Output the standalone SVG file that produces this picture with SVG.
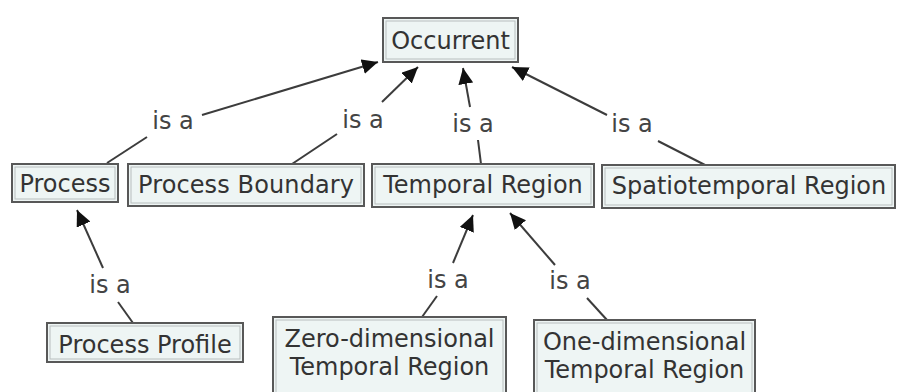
<svg xmlns="http://www.w3.org/2000/svg" width="897" height="392" viewBox="0 0 897 392">
  <style>
    .box { fill: #eef5f4; stroke: #585858; stroke-width: 2; }
    .inner { fill: none; stroke: #b8bebe; stroke-width: 1; }
    .lbl { font-family: "DejaVu Sans", Verdana, sans-serif; font-size: 24px; fill: #333333; text-anchor: middle; }
    .rel { font-family: "DejaVu Sans", Verdana, sans-serif; font-size: 24px; fill: #444444; text-anchor: middle; }
    .edge { stroke: #3c3c3c; stroke-width: 2; fill: none; }
    .arrow { stroke: #3c3c3c; stroke-width: 2; fill: none; marker-end: url(#ah); }
  </style>
  <defs>
    <marker id="ah" markerUnits="userSpaceOnUse" markerWidth="17" markerHeight="15" refX="16" refY="7.5" orient="auto">
      <path d="M0,0 L16,7.5 L0,15 Z" fill="#111"/>
    </marker>
  </defs>
  <rect width="897" height="392" fill="#ffffff"/>

  <g id="connectors">
    <!-- Process -> Occurrent -->
    <line class="edge" x1="107" y1="163" x2="147" y2="137"/>
    <text class="rel" x="173" y="129">is a</text>
    <line class="arrow" x1="202" y1="115" x2="378" y2="62"/>
    <!-- Process Boundary -> Occurrent -->
    <line class="edge" x1="292" y1="164" x2="337" y2="134"/>
    <text class="rel" x="363" y="128">is a</text>
    <line class="arrow" x1="382" y1="102" x2="418" y2="67"/>
    <!-- Temporal Region -> Occurrent -->
    <line class="edge" x1="481" y1="164" x2="478" y2="140"/>
    <text class="rel" x="473" y="132">is a</text>
    <line class="arrow" x1="470" y1="107" x2="463" y2="68"/>
    <!-- Spatiotemporal Region -> Occurrent -->
    <line class="edge" x1="705" y1="165" x2="658" y2="141"/>
    <text class="rel" x="632" y="132">is a</text>
    <line class="arrow" x1="607" y1="115" x2="512" y2="67"/>
    <!-- Process Profile -> Process -->
    <line class="edge" x1="133" y1="323" x2="118" y2="302"/>
    <text class="rel" x="110" y="293">is a</text>
    <line class="arrow" x1="103" y1="268" x2="77" y2="210"/>
    <!-- Zero-dimensional -> Temporal Region -->
    <line class="edge" x1="422" y1="317" x2="437" y2="296"/>
    <text class="rel" x="448" y="288">is a</text>
    <line class="arrow" x1="453" y1="263" x2="473" y2="215"/>
    <!-- One-dimensional -> Temporal Region -->
    <line class="edge" x1="607" y1="320" x2="587" y2="298"/>
    <text class="rel" x="570" y="289">is a</text>
    <line class="arrow" x1="555" y1="265" x2="510" y2="213"/>
  </g>

  <g id="occurrent">
    <rect class="box" x="383" y="18" width="135" height="44"/>
    <rect class="inner" x="386" y="21" width="129" height="38"/>
    <text class="lbl" x="450.5" y="49">Occurrent</text>
  </g>
  <g id="process">
    <rect class="box" x="12" y="164" width="106" height="38"/>
    <rect class="inner" x="15" y="167" width="100" height="32"/>
    <text class="lbl" x="65" y="192">Process</text>
  </g>
  <g id="process-boundary">
    <rect class="box" x="128" y="164" width="236" height="42"/>
    <rect class="inner" x="131" y="167" width="230" height="36"/>
    <text class="lbl" x="246" y="193" textLength="216" lengthAdjust="spacing">Process Boundary</text>
  </g>
  <g id="temporal-region">
    <rect class="box" x="372" y="164" width="222" height="43"/>
    <rect class="inner" x="375" y="167" width="216" height="37"/>
    <text class="lbl" x="483" y="193">Temporal Region</text>
  </g>
  <g id="spatiotemporal-region">
    <rect class="box" x="602" y="165" width="293" height="43"/>
    <rect class="inner" x="605" y="168" width="287" height="37"/>
    <text class="lbl" x="749" y="194">Spatiotemporal Region</text>
  </g>
  <g id="process-profile">
    <rect class="box" x="47" y="323" width="196" height="39"/>
    <rect class="inner" x="50" y="326" width="190" height="33"/>
    <text class="lbl" x="145" y="353">Process Profile</text>
  </g>
  <g id="zero-dimensional-temporal-region">
    <rect class="box" x="273" y="317" width="233" height="76"/>
    <rect class="inner" x="276" y="320" width="227" height="73"/>
    <text class="lbl" x="389.5" y="347">Zero-dimensional</text>
    <text class="lbl" x="389.5" y="375">Temporal Region</text>
  </g>
  <g id="one-dimensional-temporal-region">
    <rect class="box" x="534" y="320" width="221" height="73"/>
    <rect class="inner" x="537" y="323" width="215" height="70"/>
    <text class="lbl" x="644.5" y="350">One-dimensional</text>
    <text class="lbl" x="644.5" y="378">Temporal Region</text>
  </g>
</svg>
